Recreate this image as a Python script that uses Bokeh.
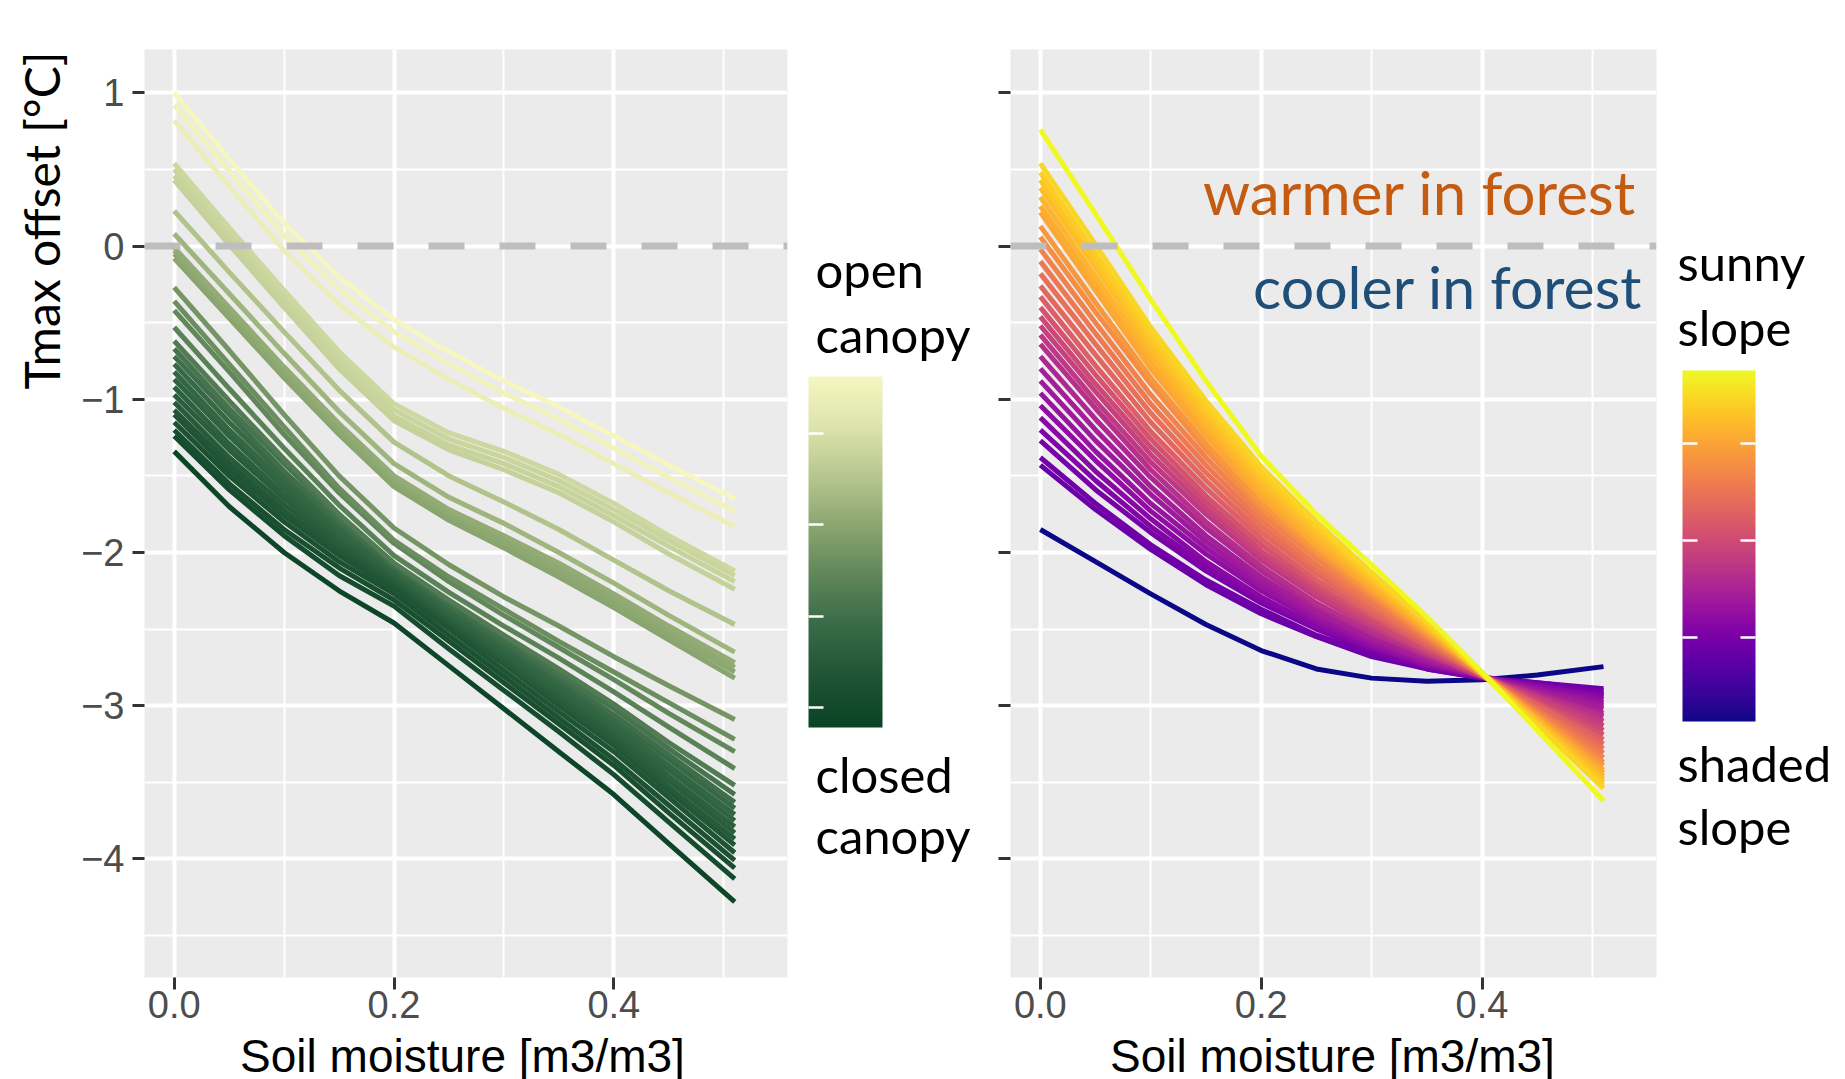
import numpy as np
from bokeh.plotting import figure
from bokeh.models import Range1d, FixedTicker, Span, Label, LinearColorMapper
from bokeh.layouts import row, column
from bokeh.embed import file_html
from bokeh.resources import INLINE
from bokeh.core.properties import value
from bokeh.palettes import Plasma256

# ---------------- data ----------------
soil_moisture = [0.0, 0.05, 0.10, 0.15, 0.20, 0.25, 0.30, 0.35, 0.40, 0.45, 0.51]

# canopy openness (1 = open, 0 = closed) for each curve of the left panel
canopy_openness = [1.00, 0.97, 0.94, 0.80, 0.79, 0.78, 0.77, 0.70, 0.64, 0.60, 0.59, 0.58, 0.57,
                   0.50, 0.47, 0.44, 0.41, 0.38, 0.34, 0.31, 0.28, 0.26, 0.24, 0.22, 0.20, 0.18,
                   0.16, 0.14, 0.12, 0.10, 0.08, 0.02]
canopy_curves = [
    [1.00, 0.57, 0.15, -0.20, -0.48, -0.69, -0.88, -1.05, -1.24, -1.43, -1.65],
    [0.92, 0.49, 0.07, -0.28, -0.56, -0.77, -0.96, -1.13, -1.32, -1.51, -1.73],
    [0.82, 0.39, -0.03, -0.38, -0.66, -0.87, -1.06, -1.23, -1.42, -1.61, -1.83],
    [0.54, 0.12, -0.29, -0.69, -1.03, -1.22, -1.34, -1.49, -1.68, -1.89, -2.12],
    [0.50, 0.08, -0.33, -0.73, -1.07, -1.26, -1.38, -1.53, -1.72, -1.92, -2.15],
    [0.46, 0.04, -0.37, -0.77, -1.11, -1.30, -1.42, -1.57, -1.76, -1.96, -2.19],
    [0.43, 0.01, -0.40, -0.80, -1.14, -1.33, -1.46, -1.61, -1.80, -2.01, -2.24],
    [0.23, -0.17, -0.56, -0.94, -1.28, -1.50, -1.67, -1.85, -2.05, -2.25, -2.47],
    [0.08, -0.31, -0.70, -1.08, -1.42, -1.64, -1.81, -2.00, -2.20, -2.41, -2.65],
    [-0.01, -0.40, -0.79, -1.16, -1.50, -1.72, -1.89, -2.07, -2.27, -2.48, -2.72],
    [-0.03, -0.42, -0.81, -1.18, -1.52, -1.74, -1.91, -2.10, -2.30, -2.51, -2.75],
    [-0.05, -0.44, -0.83, -1.20, -1.54, -1.76, -1.94, -2.13, -2.33, -2.54, -2.78],
    [-0.08, -0.47, -0.86, -1.23, -1.57, -1.79, -1.97, -2.16, -2.36, -2.57, -2.82],
    [-0.27, -0.68, -1.10, -1.50, -1.84, -2.08, -2.29, -2.48, -2.68, -2.87, -3.09],
    [-0.36, -0.77, -1.18, -1.58, -1.92, -2.16, -2.37, -2.58, -2.78, -2.98, -3.22],
    [-0.42, -0.82, -1.23, -1.61, -1.94, -2.19, -2.41, -2.62, -2.83, -3.05, -3.30],
    [-0.53, -0.93, -1.32, -1.69, -2.02, -2.26, -2.48, -2.69, -2.91, -3.14, -3.41],
    [-0.62, -1.01, -1.39, -1.75, -2.07, -2.31, -2.54, -2.76, -2.99, -3.24, -3.52],
    [-0.67, -1.06, -1.42, -1.77, -2.07, -2.32, -2.55, -2.79, -3.02, -3.28, -3.58],
    [-0.72, -1.10, -1.47, -1.80, -2.09, -2.34, -2.58, -2.82, -3.06, -3.32, -3.63],
    [-0.77, -1.15, -1.50, -1.82, -2.10, -2.36, -2.60, -2.84, -3.09, -3.35, -3.67],
    [-0.82, -1.20, -1.54, -1.85, -2.12, -2.38, -2.62, -2.87, -3.12, -3.39, -3.71],
    [-0.87, -1.24, -1.58, -1.88, -2.14, -2.40, -2.65, -2.90, -3.15, -3.42, -3.75],
    [-0.92, -1.29, -1.62, -1.90, -2.15, -2.42, -2.67, -2.92, -3.17, -3.46, -3.79],
    [-0.97, -1.33, -1.65, -1.93, -2.17, -2.43, -2.69, -2.95, -3.20, -3.49, -3.83],
    [-1.02, -1.38, -1.69, -1.96, -2.19, -2.45, -2.71, -2.97, -3.23, -3.53, -3.87],
    [-1.07, -1.42, -1.73, -1.99, -2.21, -2.47, -2.73, -3.00, -3.26, -3.56, -3.91],
    [-1.10, -1.46, -1.76, -2.02, -2.24, -2.50, -2.77, -3.04, -3.30, -3.60, -3.96],
    [-1.15, -1.50, -1.80, -2.06, -2.27, -2.54, -2.81, -3.08, -3.35, -3.65, -4.01],
    [-1.20, -1.55, -1.85, -2.10, -2.31, -2.58, -2.85, -3.12, -3.39, -3.70, -4.06],
    [-1.24, -1.59, -1.89, -2.15, -2.35, -2.63, -2.90, -3.17, -3.45, -3.76, -4.13],
    [-1.34, -1.70, -2.00, -2.25, -2.46, -2.74, -3.02, -3.30, -3.58, -3.90, -4.28],
]

# slope sunniness (1 = sunny, 0 = shaded) for each curve of the right panel
slope_sunniness = [1.00, 0.92, 0.90, 0.88, 0.86, 0.84, 0.82, 0.80, 0.76, 0.73, 0.70, 0.67, 0.64,
                   0.61, 0.58, 0.54, 0.51, 0.48, 0.45, 0.42, 0.39, 0.36, 0.34, 0.32, 0.30, 0.28,
                   0.26, 0.24, 0.22, 0.20, 0.00]
slope_curves = [
    [0.76, 0.21, -0.35, -0.88, -1.37, -1.75, -2.08, -2.42, -2.78, -3.16, -3.62],
    [0.54, 0.01, -0.53, -1.01, -1.44, -1.80, -2.13, -2.45, -2.79, -3.13, -3.54],
    [0.48, -0.05, -0.58, -1.05, -1.48, -1.83, -2.15, -2.46, -2.79, -3.12, -3.52],
    [0.43, -0.10, -0.62, -1.09, -1.51, -1.85, -2.17, -2.47, -2.79, -3.11, -3.50],
    [0.38, -0.14, -0.66, -1.13, -1.54, -1.88, -2.18, -2.48, -2.79, -3.10, -3.48],
    [0.32, -0.20, -0.71, -1.17, -1.58, -1.91, -2.20, -2.49, -2.79, -3.09, -3.46],
    [0.26, -0.25, -0.76, -1.20, -1.61, -1.93, -2.22, -2.50, -2.79, -3.09, -3.44],
    [0.22, -0.29, -0.80, -1.24, -1.64, -1.96, -2.24, -2.51, -2.79, -3.08, -3.42],
    [0.13, -0.37, -0.86, -1.29, -1.68, -1.99, -2.26, -2.53, -2.79, -3.06, -3.39],
    [0.06, -0.43, -0.90, -1.33, -1.71, -2.01, -2.28, -2.54, -2.79, -3.06, -3.37],
    [-0.02, -0.50, -0.97, -1.38, -1.75, -2.04, -2.30, -2.55, -2.80, -3.04, -3.34],
    [-0.10, -0.57, -1.03, -1.43, -1.79, -2.08, -2.33, -2.56, -2.80, -3.03, -3.31],
    [-0.18, -0.64, -1.09, -1.48, -1.83, -2.11, -2.35, -2.58, -2.80, -3.02, -3.28],
    [-0.26, -0.71, -1.15, -1.53, -1.87, -2.14, -2.38, -2.59, -2.80, -3.00, -3.25],
    [-0.33, -0.78, -1.21, -1.58, -1.91, -2.18, -2.40, -2.61, -2.80, -2.99, -3.22],
    [-0.40, -0.84, -1.26, -1.63, -1.95, -2.21, -2.42, -2.62, -2.80, -2.98, -3.19],
    [-0.46, -0.90, -1.31, -1.67, -1.99, -2.24, -2.45, -2.64, -2.80, -2.97, -3.16],
    [-0.52, -0.95, -1.36, -1.71, -2.02, -2.27, -2.47, -2.65, -2.81, -2.95, -3.13],
    [-0.58, -1.01, -1.41, -1.75, -2.05, -2.29, -2.49, -2.66, -2.81, -2.94, -3.10],
    [-0.64, -1.06, -1.46, -1.80, -2.09, -2.33, -2.52, -2.67, -2.81, -2.93, -3.07],
    [-0.72, -1.13, -1.51, -1.84, -2.12, -2.35, -2.53, -2.68, -2.81, -2.92, -3.05],
    [-0.80, -1.20, -1.57, -1.89, -2.16, -2.38, -2.56, -2.70, -2.81, -2.91, -3.02],
    [-0.88, -1.27, -1.62, -1.93, -2.19, -2.40, -2.57, -2.71, -2.81, -2.90, -3.00],
    [-0.96, -1.34, -1.68, -1.97, -2.22, -2.43, -2.59, -2.72, -2.81, -2.89, -2.98],
    [-1.04, -1.40, -1.73, -2.01, -2.25, -2.45, -2.61, -2.73, -2.81, -2.88, -2.96],
    [-1.12, -1.47, -1.78, -2.06, -2.29, -2.48, -2.62, -2.74, -2.81, -2.87, -2.94],
    [-1.20, -1.53, -1.83, -2.09, -2.31, -2.49, -2.63, -2.74, -2.82, -2.87, -2.93],
    [-1.27, -1.59, -1.87, -2.12, -2.33, -2.50, -2.64, -2.75, -2.82, -2.86, -2.92],
    [-1.38, -1.68, -1.95, -2.18, -2.37, -2.54, -2.66, -2.76, -2.82, -2.85, -2.90],
    [-1.43, -1.72, -1.98, -2.21, -2.40, -2.55, -2.68, -2.76, -2.82, -2.85, -2.89],
    [-1.85, -2.06, -2.27, -2.47, -2.64, -2.76, -2.82, -2.84, -2.83, -2.80, -2.745],
]

x_ticks = [0.0, 0.2, 0.4]
x_tick_labels = ["0.0", "0.2", "0.4"]
x_minor = [0.1, 0.3, 0.5]
y_ticks = [-4, -3, -2, -1, 0, 1]
y_tick_labels = ["\u22124", "\u22123", "\u22122", "\u22121", "0", "1"]
y_minor = [-4.5, -3.5, -2.5, -1.5, -0.5, 0.5]

# ---------------- styling / layout ----------------
HR = 1033                  # height of the row of panels
FRAME_TOP, FRAME_BOT = 49, 977
TICK_FONT = "Liberation Sans"
NOTE_FONT = "Lato"
X_RANGE = (-0.027, 0.558)
Y_RANGE = (-4.774, 1.283)


def ramp(anchors, n=256):
    pos = np.linspace(0, 1, len(anchors))
    rgb = np.array([[int(a[i:i + 2], 16) for i in (1, 3, 5)] for a in anchors], float)
    out = []
    for tt in np.linspace(0, 1, n):
        c = [np.interp(tt, pos, rgb[:, k]) for k in range(3)]
        out.append("#%02x%02x%02x" % tuple(int(round(v)) for v in c))
    return out


canopy_palette = ramp(["#0A4326", "#1F5434", "#386A47", "#5E8559", "#8AA56F",
                       "#B6C68F", "#DDE3AC", "#F6F6C0"])
plasma = list(Plasma256)


def panel(width, b_left, b_right, show_labels):
    p = figure(width=width, height=HR, x_range=Range1d(*X_RANGE), y_range=Range1d(*Y_RANGE),
               output_backend="svg", toolbar_location=None,
               min_border_left=b_left, min_border_right=b_right,
               min_border_top=FRAME_TOP, min_border_bottom=HR - FRAME_BOT)
    p.background_fill_color = "#EBEBEB"
    p.border_fill_color = "white"
    p.outline_line_color = None
    p.xaxis.ticker = FixedTicker(ticks=x_ticks, minor_ticks=x_minor)
    p.yaxis.ticker = FixedTicker(ticks=y_ticks, minor_ticks=y_minor)
    p.xaxis.major_label_overrides = dict(zip(x_ticks, x_tick_labels))
    if show_labels:
        p.yaxis.major_label_overrides = dict(zip(y_ticks, y_tick_labels))
    else:
        p.yaxis.major_label_overrides = {t: "" for t in y_ticks}
    for ax in (p.xaxis, p.yaxis):
        ax.axis_line_color = None
        ax.minor_tick_line_color = None
        ax.major_tick_line_color = "#333333"
        ax.major_tick_line_width = 3
        ax.major_tick_out = 12
        ax.major_tick_in = 0
        ax.major_label_text_font = TICK_FONT
        ax.major_label_text_font_size = "38px"
        ax.major_label_text_color = "#4D4D4D"
    p.xaxis.major_label_standoff = 1
    p.yaxis.major_label_standoff = 8
    for g in (p.xgrid, p.ygrid):
        g.grid_line_color = "white"
        g.grid_line_width = 4
        g.minor_grid_line_color = "white"
        g.minor_grid_line_width = 2
    return p


def add_curves(p, curves, levels, palette):
    order = np.argsort(levels, kind="stable")
    xs = [soil_moisture for _ in order]
    ys = [curves[i] for i in order]
    cols = [palette[int(round(levels[i] * (len(palette) - 1)))] for i in order]
    p.multi_line(xs=xs, ys=ys, line_color=cols, line_width=5)
    p.add_layout(Span(location=0, dimension="width", line_color="#BEBEBE",
                      line_width=7, line_dash="36 35"))


def blank(width, height, x0, y_lo, y_hi):
    """An empty figure whose data coordinates are page pixels (y negated)."""
    c = figure(width=width, height=height, x_range=Range1d(x0, x0 + width),
               y_range=Range1d(-y_hi, -y_lo), output_backend="svg", toolbar_location=None,
               x_axis_location=None, y_axis_location=None, min_border=0)
    c.grid.visible = False
    c.outline_line_color = None
    c.background_fill_color = "white"
    c.border_fill_color = "white"
    return c


# left panel
p1 = panel(715, 64, 6, True)
add_curves(p1, canopy_curves, canopy_openness, canopy_palette)

# right panel
p2 = panel(690, 35, 9, False)
add_curves(p2, slope_curves, slope_sunniness, plasma)
p2.add_layout(Label(x=0.54, y=0.355, text="warmer in forest", text_align="right",
                    text_baseline="alphabetic", text_font=NOTE_FONT,
                    text_font_size="60px", text_color="#C55A11"))
p2.add_layout(Label(x=0.5455, y=-0.262, text="cooler in forest", text_align="right",
                    text_baseline="alphabetic", text_font=NOTE_FONT,
                    text_font_size="59px", text_color="#1F4E79"))

# y title
yt = blank(78, HR, 0, FRAME_TOP, FRAME_BOT)
yt.text(x=[41], y=[-220], text=["Tmax offset [\u00b0C]"], angle=np.pi / 2,
        text_align="center", text_baseline="middle", text_font=value(NOTE_FONT),
        text_font_size="48px", text_color="black")


def legend_fig(x0, width, bar_left, bar_top, bar_bottom, bar_w, palette, ticks, both_sides,
               words, word_x):
    c = blank(width, HR, x0, FRAME_TOP, FRAME_BOT)
    mapper = LinearColorMapper(palette=palette, low=0, high=1)
    c.image(image=[np.linspace(0, 1, 256).reshape(256, 1)], x=bar_left, y=-bar_bottom,
            dw=bar_w, dh=bar_bottom - bar_top, color_mapper=mapper)
    ys = [-t for t in ticks]
    c.segment(x0=[bar_left] * len(ticks), x1=[bar_left + 15] * len(ticks), y0=ys, y1=ys,
              line_color="white", line_width=2.5)
    if both_sides:
        c.segment(x0=[bar_left + bar_w - 15] * len(ticks), x1=[bar_left + bar_w] * len(ticks),
                  y0=ys, y1=ys, line_color="white", line_width=2.5)
    c.text(x=[word_x] * len(words), y=[-w[1] for w in words], text=[w[0] for w in words],
           text_font=value(NOTE_FONT), text_font_size="49px", text_color="black",
           text_baseline="alphabetic", text_align="left")
    return c


c1 = legend_fig(793, 182, 808, 376, 727, 74, canopy_palette, [433, 524, 616, 707], False,
                [("open", 268), ("canopy", 333), ("closed", 773), ("canopy", 834)], 815)
c2 = legend_fig(1665, 180, 1682, 370, 721, 73, plasma, [443, 540, 637], True,
                [("sunny", 261), ("slope", 326), ("shaded", 762), ("slope", 825)], 1677)

# x titles strip
xt = blank(1845, 1079 - HR, 0, HR, 1079)
xt.text(x=[462, 1332], y=[-1055, -1055], text=["Soil moisture [m3/m3]"] * 2,
        text_align="center", text_baseline="alphabetic", text_font=value(TICK_FONT),
        text_font_size="46px", text_color="black")

layout = column(row(yt, p1, c1, p2, c2, spacing=0), xt, spacing=0)
open("out.html", "w").write(file_html(layout, INLINE, "Tmax offset vs soil moisture"))
